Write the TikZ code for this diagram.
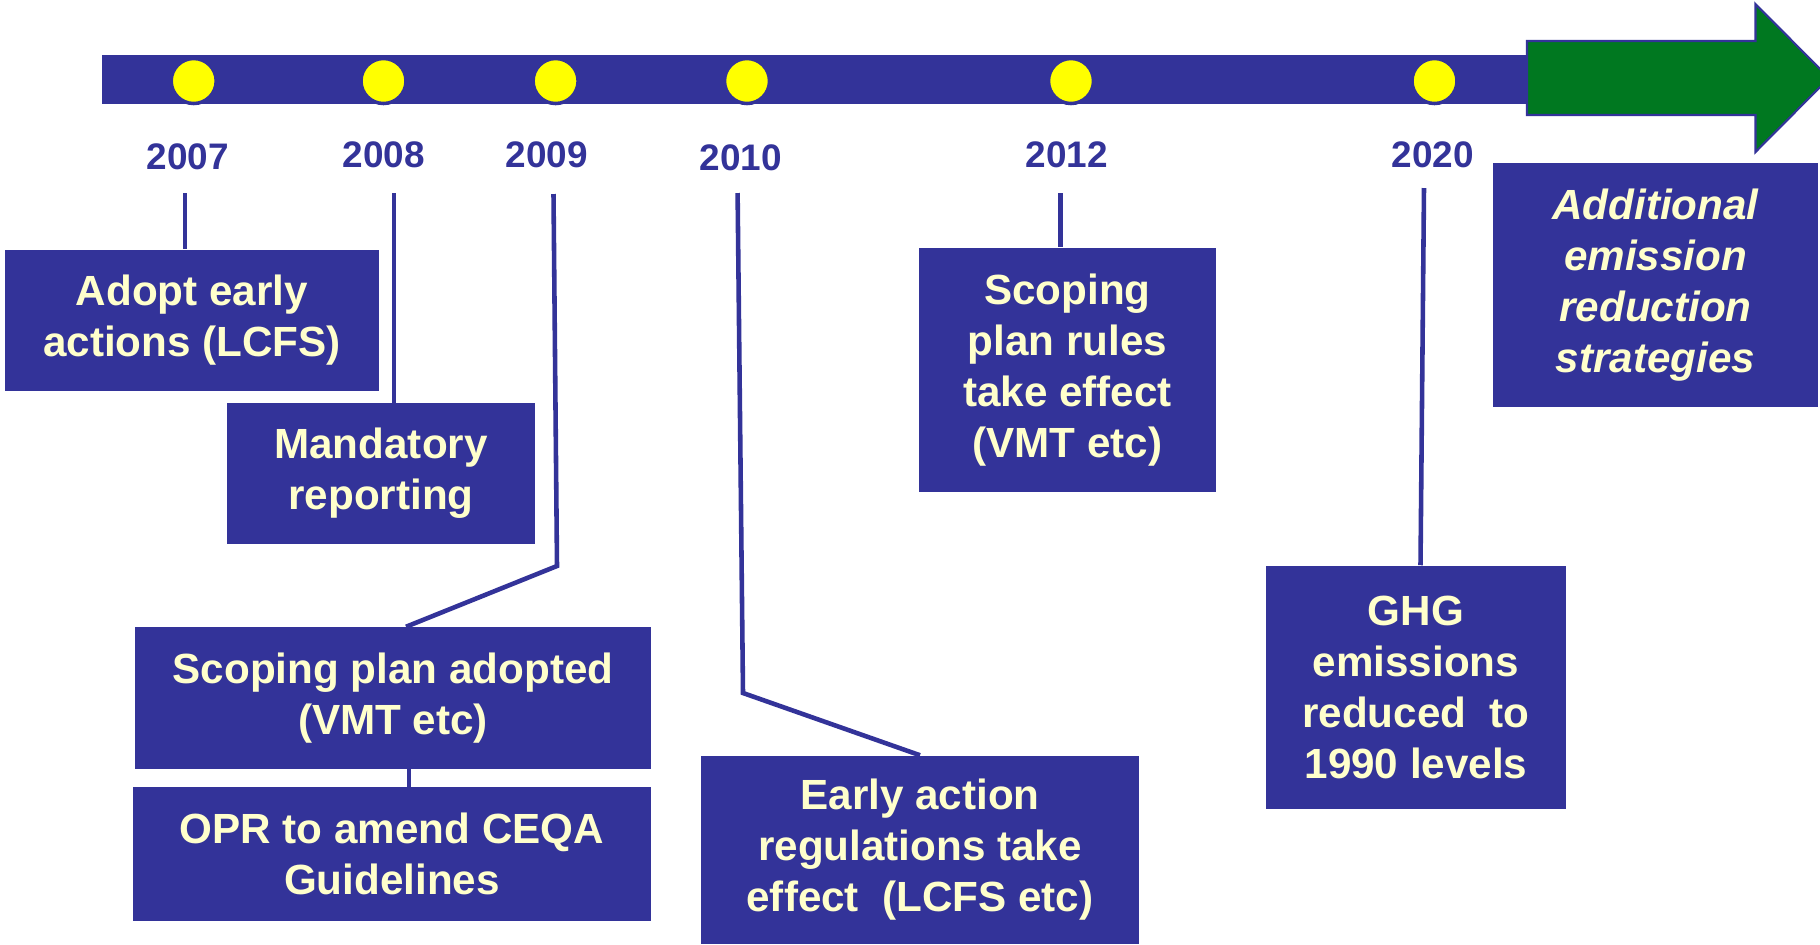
\documentclass[tikz,border=0pt]{standalone}
\usepackage{fontspec}
\setmainfont{Liberation Sans}
\usetikzlibrary{positioning}
\definecolor{barblue}{RGB}{51,51,153}
\definecolor{boxtext}{RGB}{255,255,204}
\definecolor{dotyellow}{RGB}{255,255,0}
\definecolor{aheadgreen}{RGB}{0,120,32}

\begin{document}
\begin{tikzpicture}[
        x                   = 0.01cm,
        y                   = -0.01cm,
        event/.style        = {fill=barblue, text=boxtext, align=center, inner sep=0pt,
                               font=\fontsize{12}{14.5}\selectfont\bfseries},
        future/.style       = {event, font=\fontsize{12}{14.5}\selectfont\bfseries\itshape},
        year/.style         = {text=barblue, inner sep=0pt, font=\fontsize{10.5}{12}\selectfont\bfseries},
        dot/.style          = {circle, fill=dotyellow, draw=barblue, line width=1pt,
                               minimum size=0.45cm, inner sep=0pt},
        tick/.style         = {draw=barblue, line width=1.3pt},
    ]
    \fill[white] (0,0) rectangle (1820,944);
    \useasboundingbox (0,0) rectangle (1820,944);

    % time bar and the green arrow
    \fill[barblue] (101.6,55) rectangle (1527,104);
    \draw[draw=barblue, fill=aheadgreen, line width=0.6pt]
        (1527,41) -- (1755.5,41) -- (1755.5,4) -- (1829,78)
        -- (1755.5,152) -- (1755.5,115) -- (1527,115) -- cycle;

    % dots and years
    \foreach \dx/\lx/\ly/\yr in {193.7/188/157/2007, 383.5/384/155/2008, 555.6/547/155/2009,
                                 747/741/158/2010, 1071/1067/155/2012, 1434.5/1433/155/2020} {
        \node[dot] (d\yr) at (\dx,81) {};
        \node[year] (y\yr) at (\lx,\ly) {\yr};
    }

    % boxes
    \node[event, minimum width=3.73cm, minimum height=1.41cm] (adopt) at (192,320.5)
        {Adopt early\\actions (LCFS)};
    \node[event, minimum width=3.08cm, minimum height=1.40cm] (mandatory) at (381,473.5)
        {Mandatory\\reporting};
    \node[event, minimum width=5.15cm, minimum height=1.41cm] (adopted) at (393,698)
        {Scoping plan adopted\\(VMT etc)};
    \node[event, minimum width=5.18cm, minimum height=1.33cm] (opr) at (392,854)
        {OPR to amend CEQA\\Guidelines};
    \node[event, minimum width=4.38cm, minimum height=1.88cm] (early) at (920,850)
        {Early action\\regulations take\\effect\ \ (LCFS etc)};
    \node[event, minimum width=2.97cm, minimum height=2.435cm] (rules) at (1067.5,369.75)
        {Scoping\\plan rules\\take effect\\(VMT etc)};
    \node[event, minimum width=3.00cm, minimum height=2.43cm] (ghg) at (1416,687.5)
        {GHG\\emissions\\reduced\ \ to\\1990 levels};
    \node[future, minimum width=3.24cm, minimum height=2.435cm] (additional) at (1655.5,285)
        {Additional\\emission\\reduction\\strategies};

    % connectors
    \coordinate (c2007) at (185,193);
    \coordinate (c2008) at (394,193);
    \coordinate (c2009) at (553.5,194);
    \coordinate (k2009) at (557,566);
    \coordinate (c2010) at (737.6,193);
    \coordinate (k2010) at (743,693);
    \coordinate (c2012) at (1060.6,193);
    \coordinate (c2020) at (1424,188);
    \draw[tick] (c2007) -- (c2007 |- adopt.north);
    \draw[tick] (c2008) -- (c2008 |- mandatory.north);
    \draw[tick] (c2009) -- (k2009) -- ([xshift=0.13cm]adopted.north);
    \draw[tick] (c2010) -- (k2010) -- (early.north);
    \draw[tick] (c2012) -- (c2012 |- rules.north);
    \draw[tick] (c2020) -- ([xshift=0.045cm]ghg.north);
    \draw[tick] ([xshift=0.16cm]adopted.south) -- ([xshift=0.16cm]adopted.south |- opr.north);
\end{tikzpicture}
\end{document}
